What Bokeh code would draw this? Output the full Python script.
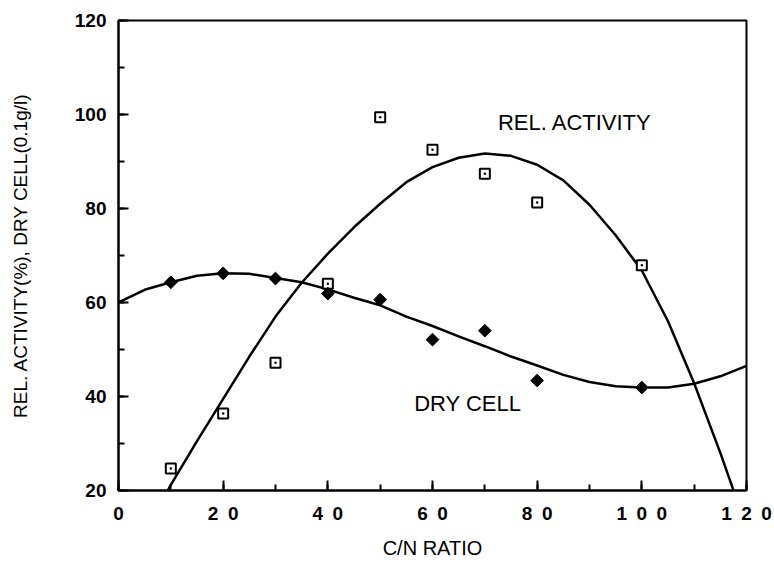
import math
from bokeh.plotting import figure
from bokeh.models import Range1d, FixedTicker, Label
from bokeh.embed import file_html
from bokeh.resources import INLINE

# measured points
cn_ratio = [10, 20, 30, 40, 50, 60, 70, 80, 100]
rel_activity = [24.7, 36.4, 47.2, 64.0, 99.4, 92.5, 87.4, 81.3, 67.9]
dry_cell = [64.3, 66.2, 65.1, 61.9, 60.6, 52.1, 54.0, 43.4, 41.9]

# fitted curves
act_curve_x = [9.4, 10, 15, 20, 25, 30, 35, 40, 45, 50, 55, 60, 65, 70, 75, 80,
               85, 90, 95, 100, 105, 110, 115, 118]
act_curve_y = [20.0, 21.2, 30.5, 39.5, 48.5, 57.0, 64.2, 70.4, 76.0, 81.0, 85.6,
               88.8, 90.8, 91.7, 91.2, 89.3, 86.0, 80.8, 74.3, 66.8, 56.0, 42.8,
               28.0, 18.5]
dry_curve_x = [0, 5, 10, 15, 20, 25, 30, 35, 40, 45, 50, 55, 60, 65, 70, 75, 80,
               85, 90, 95, 100, 105, 110, 115, 120]
dry_curve_y = [60.0, 62.7, 64.3, 65.7, 66.2, 66.1, 65.2, 64.3, 62.8, 61.0, 59.4,
               57.0, 55.0, 52.8, 50.7, 48.5, 46.6, 44.6, 43.1, 42.2, 41.9, 41.9,
               42.7, 44.3, 46.5]

x_ticks = [0, 20, 40, 60, 80, 100, 120]
GAP = "\u2002"
x_tick_labels = ["0", "2" + GAP + "0", "4" + GAP + "0", "6" + GAP + "0",
                 "8" + GAP + "0", "1" + GAP + "0" + GAP + "0",
                 "1" + GAP + "2" + GAP + "0"]
y_ticks = [20, 40, 60, 80, 100, 120]

FONT = "Liberation Sans"

p = figure(width=774, height=569, frame_width=628, frame_height=470,
           output_backend="svg", toolbar_location=None,
           x_range=Range1d(0, 120), y_range=Range1d(20, 120),
           min_border_left=118, min_border_right=28, min_border_top=20,
           min_border_bottom=79)
p.grid.visible = False
p.outline_line_color = "black"
p.outline_line_width = 2

for ax in (p.xaxis[0], p.yaxis[0]):
    ax.axis_line_width = 2
    ax.axis_line_color = "black"
    ax.major_tick_in = 10
    ax.major_tick_out = 0
    ax.minor_tick_in = 6
    ax.minor_tick_out = 0
    ax.major_tick_line_width = 2
    ax.minor_tick_line_width = 2
    ax.major_label_text_font = FONT
    ax.major_label_text_font_style = "bold"
    ax.major_label_text_font_size = "19px"
    ax.major_label_text_color = "black"
    ax.axis_label_text_font = FONT
    ax.axis_label_text_font_style = "normal"
    ax.axis_label_text_color = "black"

p.xaxis.ticker = FixedTicker(ticks=x_ticks, minor_ticks=list(range(0, 121, 10)))
p.xaxis.major_label_overrides = {t: l for t, l in zip(x_ticks, x_tick_labels)}
p.xaxis.major_label_standoff = 12
p.xaxis.axis_label = "C/N RATIO"
p.xaxis.axis_label_text_font_size = "20px"
p.xaxis.axis_label_standoff = 10

p.yaxis.ticker = FixedTicker(ticks=y_ticks, minor_ticks=list(range(20, 121, 10)))
p.yaxis.major_label_standoff = 12
p.yaxis.axis_label = "REL. ACTIVITY(%), DRY CELL(0.1g/l)"
p.yaxis.axis_label_text_font_size = "19px"
p.yaxis.axis_label_standoff = 41

p.line(act_curve_x, act_curve_y, line_color="black", line_width=2.5)
p.line(dry_curve_x, dry_curve_y, line_color="black", line_width=2.5)

p.scatter(cn_ratio, rel_activity, marker="square_dot", size=10,
          line_color="black", line_width=2, fill_color="white")
p.scatter(cn_ratio, dry_cell, marker="square", size=9, angle=math.pi / 4,
          line_color="black", fill_color="black")

p.add_layout(Label(x=72.5, y=98.3, text="REL. ACTIVITY", text_font=FONT,
                   text_font_size="22px", text_baseline="middle", text_color="black"))
p.add_layout(Label(x=56.5, y=38.5, text="DRY CELL", text_font=FONT,
                   text_font_size="22px", text_baseline="middle", text_color="black"))

open("out.html", "w").write(file_html(p, INLINE))
